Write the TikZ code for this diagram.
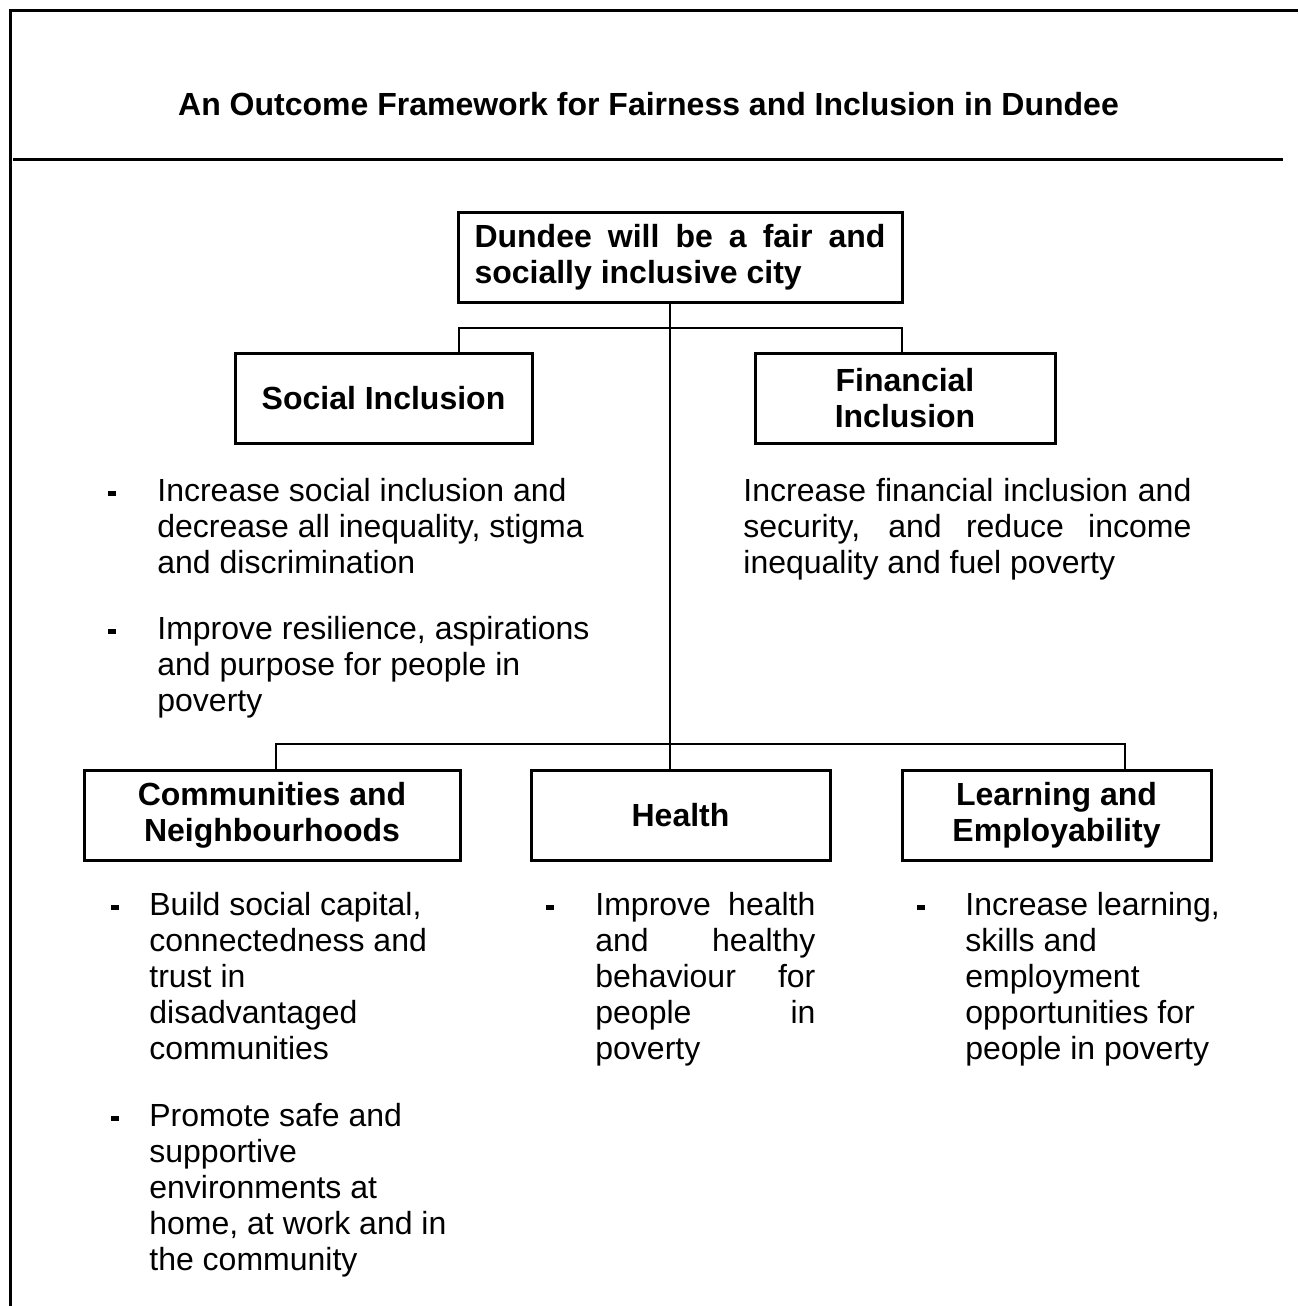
\documentclass[tikz,border=0pt]{standalone}
\usepackage{fontspec}
\setmainfont{Liberation Sans}
% a fully justified line: restore the font's stretchable interword glue
\newcommand{\jline}[2]{{\spaceskip=0pt\xspaceskip=0pt\makebox[#1][s]{#2}}}
\begin{document}
\begin{tikzpicture}[x=0.5pt,y=-0.5pt,
  body/.style={font=\fontsize{16}{18}\selectfont, inner sep=0pt, anchor=base west, align=flush left, text width=#1},
  body/.default=250pt,
  headbox/.style={draw, line width=1.5pt, font=\bfseries\fontsize{16}{18}\selectfont, align=center, inner sep=0pt, minimum height=45pt},
  link/.style={line width=1pt},
  frame/.style={line width=1.5pt},
  bulletmark/.style={fill=black, inner sep=0pt, minimum width=4pt, minimum height=2.5pt}]
\useasboundingbox (0,0) rectangle (1298,1306);

% page frame and title
\draw[frame] (10.5,1306) -- (10.5,10) -- (1298,10);
\draw[frame] (13,159) -- (1283,159);
\node[font=\bfseries\fontsize{16}{18}\selectfont, inner sep=0pt, anchor=base] (title) at (648.5,115)
  {An Outcome Framework for Fairness and Inclusion in Dundee};

% goal box
\node[draw, line width=1.5pt, font=\bfseries\fontsize{16}{18}\selectfont, align=flush left,
      text width=205.5pt, inner xsep=8.25pt, inner ysep=0pt, minimum height=45pt] (goal) at (680,257)
  {\jline{205.5pt}{Dundee will be a fair and}\\socially inclusive city};

% outcome boxes
\node[headbox, minimum width=148.5pt] (social) at (383.5,398.5) {Social Inclusion};
\node[headbox, minimum width=150pt] (fin) at (905,398.5) {Financial\\Inclusion};
\node[headbox, minimum width=188pt] (comm) at (272,815) {Communities and\\Neighbourhoods};
\node[headbox, minimum width=149.5pt] (health) at (680.5,815) {Health};
\node[headbox, minimum width=154.5pt] (learn) at (1056.5,815) {Learning and\\Employability};

% connector geometry
\coordinate (upbar) at (670,328);
\coordinate (lowbar) at (670,744);
\coordinate (sdrop) at (459,0);
\coordinate (fdrop) at (902,0);
\coordinate (cdrop) at (276,0);
\coordinate (ldrop) at (1125,0);

\draw[link] (goal.south -| upbar) -- (lowbar);
\draw[link] (social.north -| sdrop) |- (upbar) -| (fin.north -| fdrop);
\draw[link] (comm.north -| cdrop) |- (lowbar) -| (learn.north -| ldrop);
\draw[link] (lowbar) -- (health.north -| lowbar);

% social inclusion outcomes
\node[bulletmark] (bs1) at (112,493.5) {};
\node[body] (ts1) at (157,501) {Increase social inclusion and\\decrease all inequality, stigma\\and discrimination};
\node[bulletmark] (bs2) at (112,631.5) {};
\node[body] (ts2) at (157,639) {Improve resilience, aspirations\\and purpose for people in\\poverty};

% financial inclusion outcome
\node[body=224pt] (tf1) at (743,501)
  {\jline{224pt}{Increase financial inclusion and}\\\jline{224pt}{security, and reduce income}\\inequality and fuel poverty};

% communities outcomes
\node[bulletmark] (bc1) at (115,907.5) {};
\node[body] (tc1) at (149,915) {Build social capital,\\connectedness and\\trust in\\disadvantaged\\communities};
\node[bulletmark] (bc2) at (115,1118.5) {};
\node[body] (tc2) at (149,1126) {Promote safe and\\supportive\\environments at\\home, at work and in\\the community};

% health outcome
\node[bulletmark] (bh1) at (549.5,907.5) {};
\node[body=110pt] (th1) at (595,915)
  {\jline{110pt}{Improve health}\\\jline{110pt}{and healthy}\\\jline{110pt}{behaviour for}\\\jline{110pt}{people in}\\poverty};

% learning outcome
\node[bulletmark] (bl1) at (921,907.5) {};
\node[body] (tl1) at (965,915) {Increase learning,\\skills and\\employment\\opportunities for\\people in poverty};
\end{tikzpicture}
\end{document}
